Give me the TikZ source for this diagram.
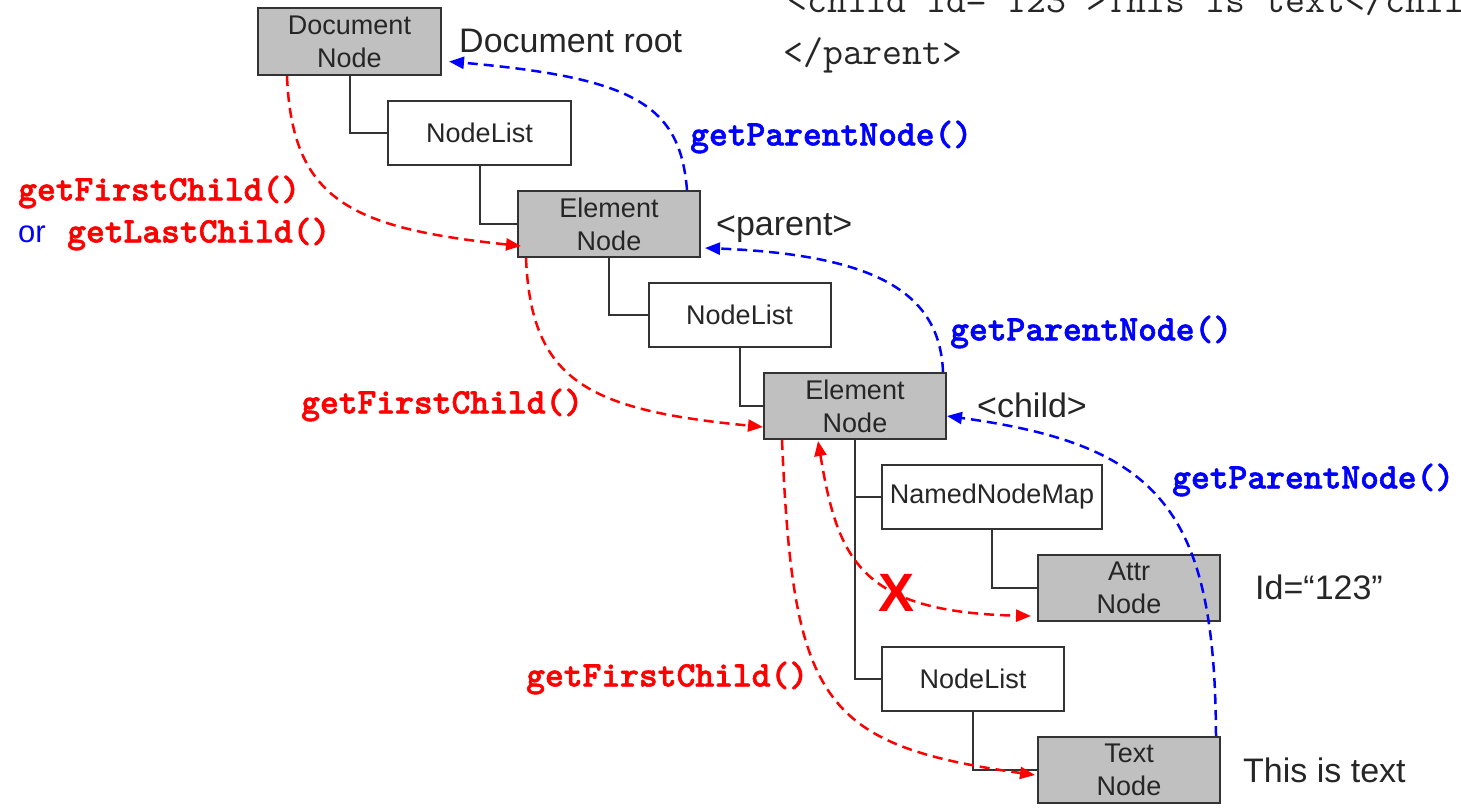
\documentclass[tikz,border=0pt]{standalone}
\usepackage{fontspec}
\setmainfont{Liberation Sans}
\newfontfamily\codeheavy{lmmonolt10-bold.otf}[FakeBold=1.6]
\usetikzlibrary{arrows.meta,calc}
\definecolor{boxgray}{HTML}{C0C0C0}
\definecolor{inkgray}{HTML}{333333}
\begin{document}
\begin{tikzpicture}[x=1pt,y=-1pt,
  box/.style={draw=inkgray, line width=2pt, inner sep=0pt, align=center,
    text=black!85, font=\fontsize{27}{33}\selectfont,
    minimum width=182pt, minimum height=66pt},
  listbox/.style={box, fill=white, minimum height=64pt},
  dombox/.style={box, fill=boxgray},
  tree/.style={draw=inkgray, line width=2pt},
  tag/.style={anchor=west, inner sep=0pt, text=black!85, font=\fontsize{34}{34}\selectfont},
  call/.style={anchor=west, inner sep=0pt, font=\codeheavy\fontsize{35.8}{36}\selectfont},
  xmlline/.style={anchor=base west, inner sep=0pt, text=black!85, font=\ttfamily\fontsize{38.7}{39}\selectfont},
  tip/.style={-{Triangle[length=15pt,width=12pt]}},
  parentarrow/.style={blue, line width=2.5pt, dash pattern=on 10pt off 6pt, tip},
  childarrow/.style={red, line width=2.5pt, dash pattern=on 10pt off 6pt, tip}
]
\useasboundingbox (0,0) rectangle (1461,808);

% XML source fragment (its first line runs past the top edge)
\node[xmlline] (src1) at (787,13) {<child id="123">This is text</child>};
\node[xmlline] (src2) at (783,65) {</parent>};

% DOM tree boxes
\node[dombox, minimum width=183pt, minimum height=67pt] (docn) at (349.5,41.5) {Document\\Node};
\node[listbox, minimum width=183pt] (nl1) at (479.5,132.5) {NodeList};
\node[dombox] (el1) at (609,224) {Element\\Node};
\node[listbox] (nl2) at (739.5,315) {NodeList};
\node[dombox] (el2) at (855,406) {Element\\Node};
\node[listbox, minimum width=220pt] (nnm) at (992,497) {NamedNodeMap};
\node[dombox] (attr) at (1129,588) {Attr\\Node};
\node[listbox] (nl3) at (973,679) {NodeList};
\node[dombox] (txt) at (1129,770) {Text\\Node};

% tree links
\draw[tree] (docn.south) |- (nl1.west);
\draw[tree] (nl1.south) |- (el1.west);
\draw[tree] (el1.south) |- (nl2.west);
\draw[tree] (nl2.south) |- (el2.west);
\draw[tree] (el2.south) |- (nnm.west);
\draw[tree] (el2.south) |- (nl3.west);
\draw[tree] (nnm.south) |- (attr.west);
\draw[tree] (nl3.south) |- (txt.west);

% side captions
\node[tag] (cap1) at (459,41) {Document root};
\node[tag] (cap2) at (716,228) {<parent>};
\node[tag] (cap3) at (977,405) {<child>};
\node[tag] (cap4) at (1255,587) {Id=“123”};
\node[tag] (cap5) at (1243,770) {This is text};

% anchor points of the navigation arrows
\coordinate (b1s) at ($(el1.north east)+(-14,0)$);
\coordinate (b1e) at ($(docn.east)+(7,20)$);
\coordinate (b2s) at ($(el2.north east)+(-4,0)$);
\coordinate (b2e) at ($(el1.east)+(4,24)$);
\coordinate (b3s) at ($(txt.north east)+(-5,0)$);
\coordinate (b3e) at ($(el2.east)+(0,10)$);
\coordinate (r1s) at ($(docn.south west)+(30,0)$);
\coordinate (r1e) at ($(el1.west)+(4,22)$);
\coordinate (r2s) at ($(el1.south west)+(9,0)$);
\coordinate (r2e) at ($(el2.west)+(0,21)$);
\coordinate (r3s) at ($(el2.south west)+(19,0)$);
\coordinate (r3e) at ($(txt.west)+(-2,5)$);
\coordinate (r4s) at ($(el2.south)+(-37,1)$);
\coordinate (r4e) at ($(attr.west)+(-6,28)$);

% getParentNode() arrows
\draw[parentarrow] (b1s) .. controls (680,105) and (635,78) .. (b1e);
\draw[parentarrow] (b2s) .. controls (940,295) and (880,255) .. (b2e);
\draw[parentarrow] (b3s) .. controls (1215,510) and (1160,445) .. (b3e);

% getFirstChild() arrows
\draw[childarrow] (r1s) .. controls (292,200) and (350,228) .. (r1e);
\draw[childarrow] (r2s) .. controls (531,382) and (589,410) .. (r2e);
\draw[childarrow] (r3s) .. controls (793,700) and (820,745) .. (r3e);
\draw[childarrow, {Triangle[length=15pt,width=12pt]}-{Triangle[length=15pt,width=12pt]}]
  (r4s) .. controls (838,560) and (860,612) .. (r4e);
\node[red, inner sep=0pt, font=\bfseries\fontsize{54}{54}\selectfont] (nox) at (896,593) {X};

% method labels
\node[call, blue] (m1) at (690,137) {getParentNode()};
\node[call, blue] (m2) at (950,332) {getParentNode()};
\node[call, blue] (m3) at (1172,480) {getParentNode()};
\node[call, red] (m4) at (18,192) {getFirstChild()};
\node[tag, blue, font=\fontsize{31}{31}\selectfont] (m5a) at (18,234) {or};
\node[call, red] (m5) at (67,234) {getLastChild()};
\node[call, red] (m6) at (301,405) {getFirstChild()};
\node[call, red] (m7) at (526,678) {getFirstChild()};
\end{tikzpicture}
\end{document}
